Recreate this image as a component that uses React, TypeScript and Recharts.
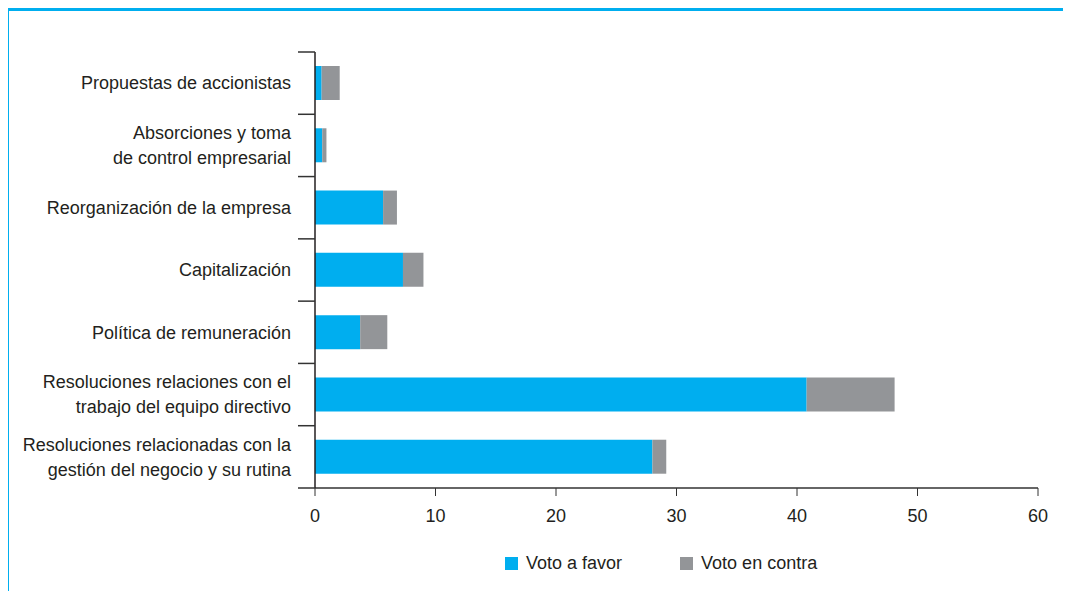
import React from 'react';
import { BarChart, Bar, XAxis, YAxis, Legend } from 'recharts';

// categorías (de arriba a abajo) y valores
const categorias = [
  'Propuestas de accionistas',
  'Absorciones y toma\nde control empresarial',
  'Reorganización de la empresa',
  'Capitalización',
  'Política de remuneración',
  'Resoluciones relaciones con el\ntrabajo del equipo directivo',
  'Resoluciones relacionadas con la\ngestión del negocio y su rutina',
];
const votoFavor = [0.55, 0.6, 5.65, 7.3, 3.75, 40.8, 28];
const votoContra = [1.5, 0.35, 1.15, 1.7, 2.25, 7.3, 1.15];
const xTicks = [0, 10, 20, 30, 40, 50, 60];

const AZUL = '#00AEEF';
const GRIS = '#939598';
const TEXTO = '#231f20';
const FUENTE = '"Liberation Sans", Arial, sans-serif';

const data = categorias.map((c, i) => ({
  cat: c,
  favor: votoFavor[i],
  contra: votoContra[i],
}));

function CatTick(props: any) {
  const { x, y, payload, index } = props;
  const off = payload?.offset ?? 31;
  const lines = String(payload.value).split('\n');
  const lh = 25;
  const start = -((lines.length - 1) * lh) / 2;
  return (
    <g>
      <line x1={x + 7} x2={x + 24} y1={y - off} y2={y - off} stroke="#333" strokeWidth={1.5} />
      {index === categorias.length - 1 && (
        <line x1={x + 7} x2={x + 24} y1={y + off} y2={y + off} stroke="#333" strokeWidth={1.5} />
      )}
      <text x={x} y={y} textAnchor="end" fill={TEXTO} fontSize={18} fontFamily={FUENTE}>
        {lines.map((l, i) => (
          <tspan key={i} x={x} y={y + start + i * lh} dy="0.35em">
            {l}
          </tspan>
        ))}
      </text>
    </g>
  );
}

function Leyenda() {
  const items = [
    { name: 'Voto a favor', color: AZUL },
    { name: 'Voto en contra', color: GRIS },
  ];
  return (
    <div style={{ display: 'flex', alignItems: 'center', fontFamily: FUENTE, fontSize: 18, color: TEXTO }}>
      {items.map((it, i) => (
        <div key={i} style={{ display: 'flex', alignItems: 'center', marginRight: i === 0 ? 58 : 0 }}>
          <span style={{ width: 13, height: 13, background: it.color, display: 'inline-block', marginRight: 8 }} />
          <span>{it.name}</span>
        </div>
      ))}
    </div>
  );
}

export default function App() {
  return (
    <div
      style={{
        position: 'relative',
        marginLeft: -2,
        width: 1065,
        height: 583,
        borderTop: `3px solid ${AZUL}`,
        borderLeft: `3px solid ${AZUL}`,
        background: '#fff',
      }}
    >
      <BarChart
        width={1055}
        height={570}
        data={data}
        layout="vertical"
        margin={{ top: 41, right: 26, bottom: 32, left: 0 }}
        barSize={34}
      >
        <XAxis
          type="number"
          domain={[0, 60]}
          ticks={xTicks}
          height={40}
          tickSize={8}
          tickMargin={13}
          stroke="#333"
          axisLine={{ stroke: '#333', strokeWidth: 1.5 }}
          tick={{ fill: TEXTO, fontSize: 18, fontFamily: FUENTE }}
        />
        <YAxis
          type="category"
          dataKey="cat"
          width={306}
          tickSize={17}
          tickMargin={7}
          tickLine={false}
          axisLine={{ stroke: TEXTO, strokeWidth: 1.5 }}
          tick={<CatTick />}
          interval={0}
        />
        <Legend
          content={() => <Leyenda />}
          wrapperStyle={{ left: 496, top: 542, width: 360, bottom: 'auto' }}
        />
        <Bar dataKey="favor" name="Voto a favor" stackId="a" fill={AZUL} isAnimationActive={false} />
        <Bar dataKey="contra" name="Voto en contra" stackId="a" fill={GRIS} isAnimationActive={false} />
      </BarChart>
    </div>
  );
}
